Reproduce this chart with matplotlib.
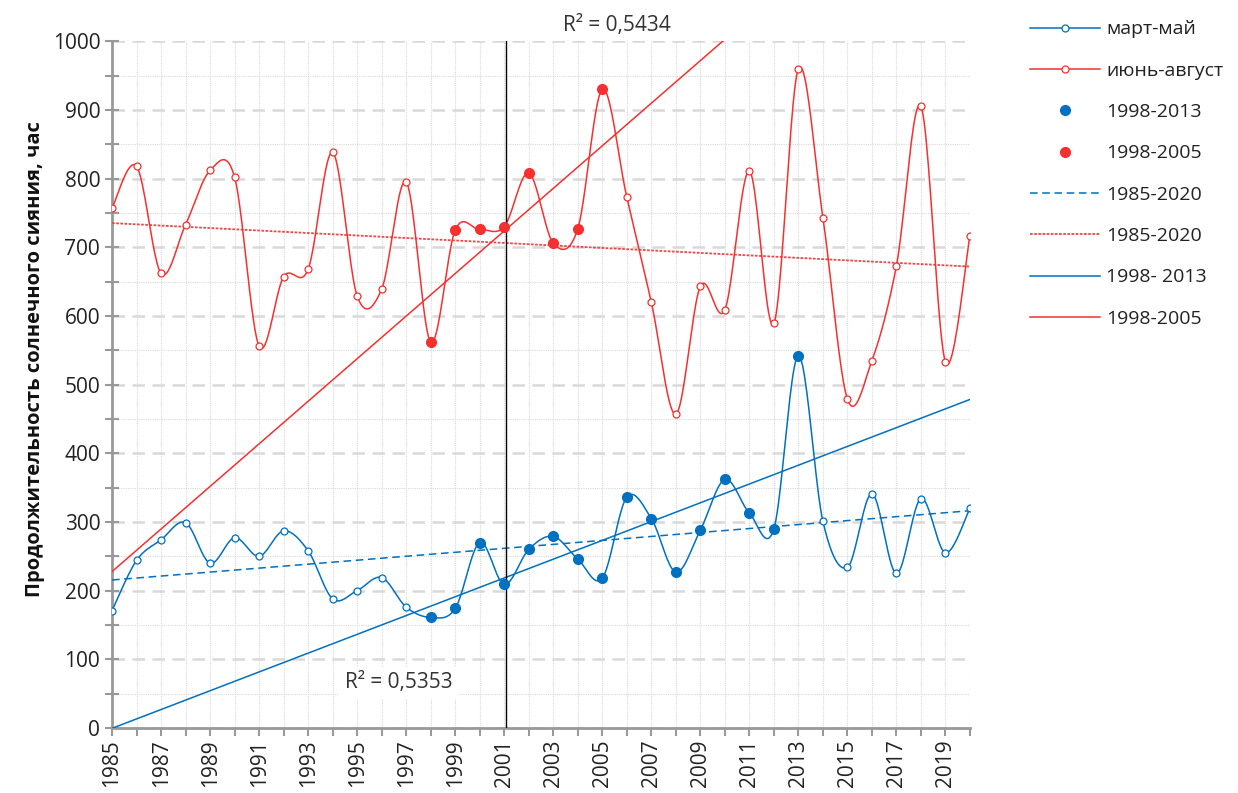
import numpy as np
import matplotlib
matplotlib.use("Agg")
import matplotlib.pyplot as plt
from matplotlib.ticker import MultipleLocator, FixedLocator

plt.rcParams['font.family'] = ['Open Sans', 'DejaVu Sans']

years = np.arange(1985, 2021)

# продолжительность солнечного сияния, час
spring = [171, 244, 274, 299, 240, 277, 250, 287, 258, 188,
          200, 219, 176, 161, 174, 270, 209, 260, 279, 246,
          218, 336, 305, 227, 288, 362, 313, 290, 542, 301,
          234, 341, 225, 334, 255, 320]
summer = [757, 818, 662, 733, 812, 802, 556, 657, 668, 838,
          629, 639, 795, 562, 725, 726, 730, 808, 706, 727,
          930, 773, 620, 457, 643, 609, 811, 589, 960, 743,
          479, 535, 673, 905, 533, 717]

spring_period = (1998, 2013)
summer_period = (1998, 2005)
r2_spring = "R² = 0,5353"
r2_summer = "R² = 0,5434"
year_labels = list(range(1985, 2020, 2))
legend_labels = ["март-май", "июнь-август", "1998-2013", "1998-2005",
                 "1985-2020", "1985-2020", "1998- 2013", "1998-2005"]

BLUE = "#0070C0"
RED = "#F5302F"


def smooth(x, y, n=24):
    # bezier curve through the points, control points from neighbours (1/6)
    x = np.asarray(x, float)
    y = np.asarray(y, float)
    px = np.concatenate([[x[0]], x, [x[-1]]])
    py = np.concatenate([[y[0]], y, [y[-1]]])
    xs, ys = [], []
    t = np.linspace(0, 1, n)
    for i in range(len(x) - 1):
        p0 = np.array([px[i + 1], py[i + 1]])
        p3 = np.array([px[i + 2], py[i + 2]])
        p1 = p0 + (p3 - np.array([px[i], py[i]])) / 6
        p2 = p3 - (np.array([px[i + 3], py[i + 3]]) - p0) / 6
        b = (np.outer((1 - t) ** 3, p0) + np.outer(3 * (1 - t) ** 2 * t, p1)
             + np.outer(3 * (1 - t) * t ** 2, p2) + np.outer(t ** 3, p3))
        xs.append(b[:, 0])
        ys.append(b[:, 1])
    return np.concatenate(xs), np.concatenate(ys)


def trend(x, y, lo, hi):
    x = np.asarray(x)
    y = np.asarray(y, float)
    m = (x >= lo) & (x <= hi)
    k, b = np.polyfit(x[m], y[m], 1)
    return k * years + b


fig = plt.figure(figsize=(12.38, 7.93), dpi=100)
ax = fig.add_axes([0.0905, 0.082, 0.693, 0.866])

spring_a = np.array(spring)
summer_a = np.array(summer)

# trend lines
h_tb_all, = ax.plot(years, trend(years, spring, 1985, 2020), color=BLUE,
                    lw=1.1, ls=(0, (5, 3)), zorder=3)
h_tr_all, = ax.plot(years, trend(years, summer, 1985, 2020), color="#F04848",
                    lw=1.3, ls=(0, (1.5, 0.8)), zorder=3)
h_tb, = ax.plot(years, trend(years, spring, *spring_period), color=BLUE,
                lw=1.1, zorder=3)
h_tr, = ax.plot(years, trend(years, summer, *summer_period), color=RED,
                lw=1.1, zorder=3)

# smoothed series
sx, sy = smooth(years, spring)
ax.plot(sx, sy, color=BLUE, lw=1.1, zorder=4)
ax.plot(years, spring, ls="none", marker="o", ms=5, mfc="white",
        mec=BLUE, mew=0.9, zorder=5)
h_spring, = ax.plot([], [], color=BLUE, lw=1.1, marker="o", ms=5,
                    mfc="white", mec=BLUE, mew=0.9)

rx, ry = smooth(years, summer)
ax.plot(rx, ry, color=RED, lw=1.1, zorder=4)
ax.plot(years, summer, ls="none", marker="o", ms=5, mfc="white",
        mec=RED, mew=0.9, zorder=5)
h_summer, = ax.plot([], [], color=RED, lw=1.1, marker="o", ms=5,
                    mfc="white", mec=RED, mew=0.9)

mb = (years >= spring_period[0]) & (years <= spring_period[1])
h_pb, = ax.plot(years[mb], spring_a[mb], ls="none", marker="o", ms=7,
                color=BLUE, zorder=6)
mr = (years >= summer_period[0]) & (years <= summer_period[1])
h_pr, = ax.plot(years[mr], summer_a[mr], ls="none", marker="o", ms=7,
                color=RED, zorder=6)

ax.axvline(2001.08, color="black", lw=1.0, zorder=4)

ax.set_xlim(1985, 2020)
ax.set_ylim(0, 1000)

ax.xaxis.set_major_locator(FixedLocator(year_labels))
ax.xaxis.set_minor_locator(MultipleLocator(1))
ax.yaxis.set_major_locator(MultipleLocator(100))
ax.yaxis.set_minor_locator(MultipleLocator(50))

ax.grid(which="major", axis="y", color="#D9D9D9", lw=1.8, ls=(0, (5, 3)))
ax.grid(which="minor", axis="y", color="#D9D9D9", lw=0.8, ls=(0, (1, 1)))
ax.grid(which="both", axis="x", color="#D9D9D9", lw=0.8, ls=(0, (1, 1)))
ax.set_axisbelow(True)

for s in ("top", "right"):
    ax.spines[s].set_visible(False)
for s in ("left", "bottom"):
    ax.spines[s].set_color("#999999")
    ax.spines[s].set_linewidth(2)

ax.tick_params(axis="y", which="both", direction="inout", length=10,
               width=1.5, color="#999999", labelsize=15, labelcolor="#222222")
ax.tick_params(axis="x", which="both", direction="out", length=6,
               width=1.5, color="#999999", labelsize=15, labelcolor="#222222",
               labelrotation=90, pad=2)

ax.set_ylabel("Продолжительность солнечного сияния, час", fontsize=14.5,
              fontweight="bold", color="#111111")
ax.yaxis.set_label_coords(-0.078, 0.537)

ax.text(2005.6, 1008, r2_summer, fontsize=15, color="#333333",
        ha="center", va="bottom", clip_on=False)
ax.text(1996.7, 66, r2_spring, fontsize=15, color="#333333", ha="center",
        va="center", zorder=7,
        bbox=dict(facecolor="white", edgecolor="none", pad=4))

fig.legend([h_spring, h_summer, h_pb, h_pr, h_tb_all, h_tr_all, h_tb, h_tr],
           legend_labels, loc="upper left",
           bbox_to_anchor=(1012 / 1238, 1 - 3 / 793), frameon=False,
           fontsize=14, handlelength=3.6, labelspacing=1.2,
           handletextpad=0.35, labelcolor="#222222")

fig.savefig("out.png", dpi=100)
